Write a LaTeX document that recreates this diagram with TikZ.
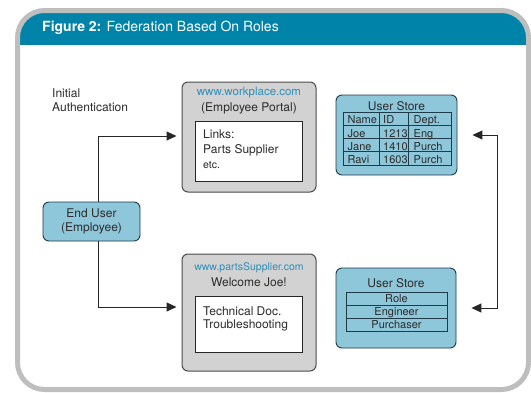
\documentclass[tikz,border=0pt]{standalone}
\usepackage{fontspec}
\setmainfont{TeX Gyre Heros}
\usetikzlibrary{arrows.meta,calc}
\definecolor{headteal}{HTML}{0083A8}
\definecolor{framegray}{HTML}{BEBEBE}
\definecolor{storeblue}{HTML}{8FC7DA}
\definecolor{storeedge}{HTML}{1E3B4A}
\definecolor{portalgray}{HTML}{D2D2D2}
\definecolor{portaledge}{HTML}{4A4A4A}
\definecolor{urlblue}{HTML}{2E8DB8}
\definecolor{inktext}{HTML}{2B2B2B}

\begin{document}
\begin{tikzpicture}[x=1pt,y=-1pt,
  lbl/.style={inner sep=0pt, text=inktext, font=\fontsize{12}{14}\selectfont},
  url/.style={lbl, text=urlblue, font=\fontsize{11.5}{14}\selectfont},
  celltext/.style={lbl, font=\fontsize{11}{13}\selectfont},
  storebox/.style={draw=storeedge, fill=storeblue, line width=0.9pt, rounded corners=6pt, inner sep=0pt},
  portalbox/.style={draw=portaledge, fill=portalgray, line width=1pt, rounded corners=6pt, inner sep=0pt},
  panel/.style={draw=black!85, fill=white, line width=0.9pt, inner sep=0pt},
  cellline/.style={draw=storeedge, line width=0.8pt},
  link/.style={draw=black!85, line width=1pt},
  tip/.style={-{Triangle[length=10pt,width=9pt]}},
]
\useasboundingbox (0,0) rectangle (531,392);
\fill[white] (0,0) rectangle (531,392);

% card with teal header band
\begin{scope}
  \clip[rounded corners=27pt] (17.5,10.5) rectangle (528.5,389.5);
  \fill[headteal] (0,0) rectangle (531,45);
\end{scope}
\draw[framegray, line width=5pt, rounded corners=27pt] (17.5,10.5) rectangle (528.5,389.5);
\node[anchor=base west, inner sep=0pt, text=white, font=\fontsize{14}{16}\selectfont] (title) at (42,31.5) {\textbf{Figure 2:} Federation Based On Roles};

% caption on the left
\node[lbl, anchor=base west] (init1) at (52,97) {Initial};
\node[lbl, anchor=base west] (init2) at (52,111.5) {Authentication};

% end user
\node[storebox, minimum width=97pt, minimum height=39pt] (eu) at (91.5,221.5) {};
\node[lbl, anchor=base] (eu1) at (91.5,217.5) {End User};
\node[lbl, anchor=base] (eu2) at (91.5,231) {(Employee)};

% employee portal
\node[portalbox, minimum width=134pt, minimum height=110pt] (wp) at (249,137) {};
\node[url, anchor=base] (wpurl) at (249,95) {www.workplace.com};
\node[lbl, anchor=base] (wpname) at (249,111.5) {(Employee Portal)};
\node[panel, minimum width=107pt, minimum height=60pt] (wppanel) at (248.5,151) {};
\node[lbl, anchor=base west] (wpl1) at (203,138.3) {Links:};
\node[lbl, anchor=base west] (wpl2) at (203,153.3) {Parts Supplier};
\node[lbl, anchor=base west, font=\fontsize{10.5}{12}\selectfont] (wpl3) at (203,168.3) {etc.};

% supplier portal
\node[portalbox, minimum width=134pt, minimum height=117pt] (ps) at (249,312.5) {};
\node[url, anchor=base, font=\fontsize{10.5}{12}\selectfont] (psurl) at (249,270) {www.partsSupplier.com};
\node[lbl, anchor=base] (psname) at (249,286) {Welcome Joe!};
\node[panel, minimum width=107pt, minimum height=56pt] (pspanel) at (248.5,324) {};
\node[lbl, anchor=base west] (psl1) at (203,315.3) {Technical Doc.};
\node[lbl, anchor=base west] (psl2) at (203,328.7) {Troubleshooting};

% user store with employee records
\node[storebox, minimum width=121pt, minimum height=80pt] (us1) at (396.5,135) {};
\node[lbl, anchor=base] (us1t) at (396.5,110) {User Store};
\draw[cellline] (343,112) rectangle (451,165);
\foreach \yy in {125.25,138.5,151.75} \draw[cellline] (343,\yy) -- (451,\yy);
\draw[cellline] (379,112) -- (379,165);
\draw[cellline] (408,112) -- (408,165);
\foreach \a/\b/\c [count=\r] in {Name/ID/Dept., Joe/1213/Eng, Jane/1410/Purch, Ravi/1603/Purch}{
  \node[celltext, anchor=base west] (ca\r) at (347.5,{110.5+13.25*\r}) {\a};
  \node[celltext, anchor=base west] (cb\r) at (383,{110.5+13.25*\r}) {\b};
  \node[celltext, anchor=base west] (cc\r) at (413.5,{110.5+13.25*\r}) {\c};
}

% user store with roles
\node[storebox, minimum width=120pt, minimum height=80pt] (us2) at (396,308) {};
\node[lbl, anchor=base] (us2t) at (396,287.3) {User Store};
\draw[cellline] (346,292) rectangle (447,331);
\draw[cellline] (346,305) -- (447,305);
\draw[cellline] (346,318) -- (447,318);
\foreach \t [count=\r] in {Role, Engineer, Purchaser}{
  \node[celltext, anchor=base] (rl\r) at (396.5,{289.5+13*\r}) {\t};
}

% connectors
\draw[link, tip] ($(eu.north)+(6.5,0)$) |- ($(wp.west)+(-5,-1)$);
\draw[link, tip] ($(eu.south)+(6.5,0)$) |- ($(ps.west)+(-5,-5.5)$);
\draw[link, {Triangle[length=10pt,width=9pt]}-{Triangle[length=10pt,width=9pt]}, shorten <=15pt, shorten >=15pt]
  (us1.east) -- ++(40,0) |- (us2.east);
\end{tikzpicture}
\end{document}
